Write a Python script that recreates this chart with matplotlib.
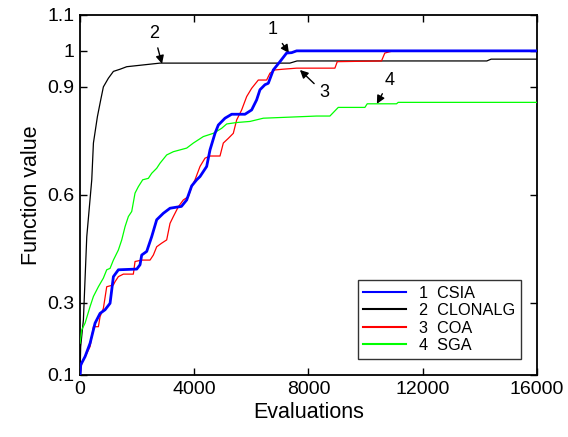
import matplotlib
matplotlib.use("Agg")
import matplotlib.pyplot as plt

# CSIA (1)
csia_x = [0, 23, 175, 350, 525, 700, 875, 1050, 1167, 1341, 1985, 2100, 2159, 2334, 2509, 2684, 2917,
          3151, 3385, 3550, 3735, 3910, 4085, 4202, 4435, 4552, 4727, 4843, 5077, 5311, 5777, 6011, 6186,
          6302, 6477, 6594, 6769, 7002, 7236, 7411, 7586, 16000]
csia_y = [0.10, 0.128, 0.151, 0.188, 0.244, 0.271, 0.281, 0.299, 0.373, 0.392, 0.394, 0.406, 0.433,
          0.443, 0.484, 0.531, 0.549, 0.563, 0.566, 0.568, 0.586, 0.625, 0.642, 0.651, 0.679, 0.725,
          0.771, 0.794, 0.813, 0.824, 0.824, 0.836, 0.864, 0.892, 0.906, 0.910, 0.947, 0.970, 0.994,
          0.995, 1.0, 1.0]

# CLONALG (2)
clonalg_x = [0, 20, 116, 234, 409, 467, 606, 723, 816, 991, 1167, 1400, 1634, 2217, 2800, 7350, 7600,
             14250, 14400, 16000]
clonalg_y = [0.10, 0.178, 0.253, 0.484, 0.642, 0.744, 0.817, 0.864, 0.900, 0.924, 0.943, 0.949, 0.956,
             0.961, 0.966, 0.966, 0.972, 0.972, 0.977, 0.977]

# COA (3)
coa_x = [0, 60, 234, 350, 467, 641, 700, 816, 933, 1167, 1225, 1341, 1516, 1866, 1925, 2159, 2451,
         2567, 2684, 2859, 3034, 3151, 3268, 3442, 3617, 3792, 3910, 4027, 4202, 4377, 4552, 4902,
         5018, 5193, 5368, 5485, 5661, 5836, 6011, 6244, 6536, 6652, 6827, 7100, 7586, 8928, 9010,
         10560, 10677, 10969, 16000]
coa_y = [0.10, 0.133, 0.160, 0.179, 0.234, 0.234, 0.262, 0.285, 0.345, 0.350, 0.359, 0.373, 0.380,
         0.380, 0.415, 0.419, 0.419, 0.433, 0.456, 0.466, 0.475, 0.521, 0.540, 0.567, 0.586, 0.595,
         0.623, 0.642, 0.679, 0.702, 0.708, 0.708, 0.744, 0.757, 0.771, 0.808, 0.836, 0.873, 0.896,
         0.919, 0.919, 0.938, 0.947, 0.949, 0.952, 0.952, 0.970, 0.972, 0.994, 1.0, 1.0]

# SGA (4)
sga_x = [0, 58, 175, 350, 467, 641, 816, 933, 1050, 1167, 1341, 1459, 1576, 1692, 1809, 1925, 2042,
         2194, 2392, 2509, 2684, 2800, 3034, 3268, 3735, 3968, 4318, 4668, 4961, 5136, 5485, 5952,
         6419, 7353, 8286, 8753, 9045, 9979, 10060, 11087, 11145, 16000]
sga_y = [0.188, 0.225, 0.244, 0.290, 0.318, 0.345, 0.369, 0.392, 0.396, 0.419, 0.447, 0.475, 0.512,
         0.540, 0.554, 0.605, 0.623, 0.642, 0.646, 0.660, 0.674, 0.688, 0.711, 0.720, 0.730, 0.744,
         0.762, 0.771, 0.785, 0.797, 0.801, 0.804, 0.813, 0.816, 0.819, 0.819, 0.843, 0.843, 0.853,
         0.853, 0.857, 0.857]

labels = ["1  CSIA", "2  CLONALG", "3  COA", "4  SGA"]
x_ticks = [0, 4000, 8000, 12000, 16000]
y_ticks = [0.1, 0.3, 0.6, 0.9, 1.0, 1.1]
y_ticklabels = ["0.1", "0.3", "0.6", "0.9", "1", "1.1"]

plt.rcParams['font.family'] = ['Liberation Sans', 'DejaVu Sans']
fig = plt.figure(figsize=(5.68, 4.37), dpi=100)
ax = fig.add_axes([0.141, 0.142, 0.804, 0.824])

ax.plot(csia_x, csia_y, color="#0000ff", lw=2.0, label=labels[0], zorder=4)
ax.plot(clonalg_x, clonalg_y, color="black", lw=0.9, label=labels[1], zorder=3)
ax.plot(coa_x, coa_y, color="#ff0000", lw=0.9, label=labels[2], zorder=3)
ax.plot(sga_x, sga_y, color="#00ff00", lw=0.9, label=labels[3], zorder=3)

ax.set_xlim(0, 16000)
ax.set_ylim(0.1, 1.1)
ax.set_xticks(x_ticks)
ax.set_yticks(y_ticks)
ax.set_yticklabels(y_ticklabels)
ax.tick_params(direction="in", top=True, right=True, labelsize=14, length=5, width=1, pad=4)
for s in ax.spines.values():
    s.set_linewidth(1.3)
ax.set_xlabel("Evaluations", fontsize=15.5, labelpad=3)
ax.set_ylabel("Function value", fontsize=15.5, labelpad=4)

arrow = dict(arrowstyle="-|>", color="black", lw=1, mutation_scale=12, shrinkA=2, shrinkB=0)
ax.annotate("1", xy=(7317, 0.994), xytext=(6757, 1.058), ha="center", va="center", fontsize=13, arrowprops=arrow)
ax.annotate("2", xy=(2871, 0.964), xytext=(2591, 1.047), ha="center", va="center", fontsize=13, arrowprops=arrow)
ax.annotate("3", xy=(7702, 0.947), xytext=(8543, 0.883), ha="center", va="center", fontsize=13, arrowprops=arrow)
ax.annotate("4", xy=(10398, 0.853), xytext=(10853, 0.919), ha="center", va="center", fontsize=13, arrowprops=arrow)

leg = ax.legend(loc="lower right", fontsize=11.7, handlelength=2.6, frameon=True, fancybox=False,
                edgecolor="black", borderaxespad=1.0, labelspacing=0.15, borderpad=0.35)
leg.get_frame().set_linewidth(1.0)
for l in leg.get_lines():
    l.set_linewidth(1.5)

fig.savefig("out.png", dpi=100)
